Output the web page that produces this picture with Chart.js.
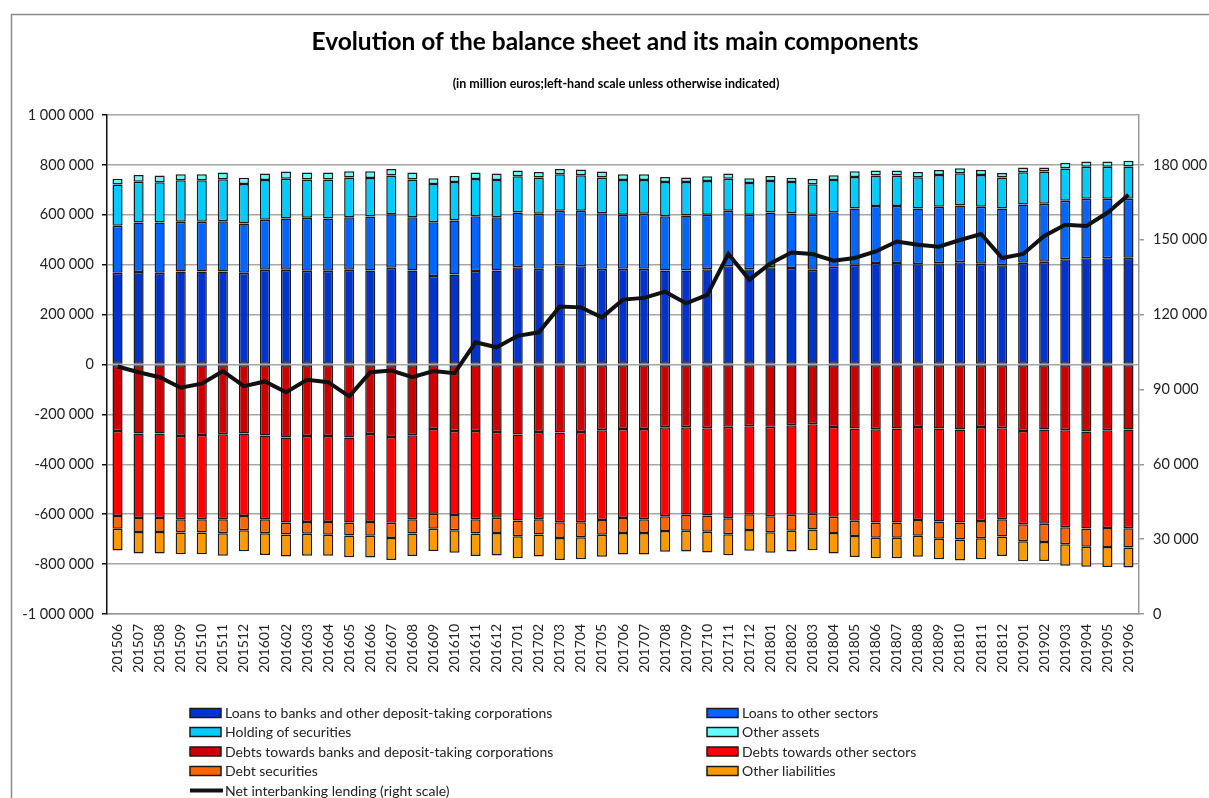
<!DOCTYPE html>
<html lang="en">
<head>
  <meta charset="UTF-8">
  <title>Evolution of the balance sheet</title>
  <script src="https://cdn.jsdelivr.net/npm/chart.js@4.4.1/dist/chart.umd.min.js"></script>
  <style>
    html, body { margin: 0; padding: 0; background: #fff; }
    #chart { display: block; }
  </style>
</head>
<body>
  <canvas id="chart" width="1209" height="798"></canvas>
  <script>
    // months (yyyymm)
    var months = ['201506','201507','201508','201509','201510','201511','201512',
      '201601','201602','201603','201604','201605','201606','201607','201608','201609','201610','201611','201612',
      '201701','201702','201703','201704','201705','201706','201707','201708','201709','201710','201711','201712',
      '201801','201802','201803','201804','201805','201806','201807','201808','201809','201810','201811','201812',
      '201901','201902','201903','201904','201905','201906'];

    // assets (million euros)
    var loansBanks = [368000,371000,368000,373000,373000,373000,368000,380000,380000,376000,376000,380000,377000,388000,
      377000,355000,361000,375000,377000,390000,384000,398000,394000,384000,384000,384000,377000,377000,382000,394000,382000,390000,387000,
      380000,392000,400000,407000,407000,402000,406000,410000,404000,398000,408000,412000,422000,426000,426000,428000];
    var loansOther = [188000,198000,201000,199000,199000,201000,197000,200000,205000,212000,209000,210000,216000,214000,
      213000,215000,216000,219000,213000,219000,220000,218000,222000,222000,216000,220000,217000,220000,218000,222000,218000,219000,218000,
      220000,218000,225000,228000,228000,223000,226000,227000,228000,227000,233000,232000,234000,238000,238000,236000];
    var securities = [165000,163000,161000,166000,166000,168000,158000,159000,159000,153000,156000,160000,154000,156000,
      151000,153000,154000,149000,149000,146000,146000,147000,143000,144000,139000,135000,137000,134000,135000,128000,127000,126000,126000,
      122000,129000,127000,123000,123000,126000,128000,130000,128000,125000,130000,130000,130000,129000,129000,130000];
    var otherAssets = [23000,28000,28000,25000,25000,28000,25000,27000,30000,29000,29000,25000,28000,26000,
      29000,23000,25000,27000,27000,23000,22000,21000,23000,24000,24000,24000,21000,19000,20000,22000,19000,21000,17000,
      21000,20000,23000,20000,20000,21000,20000,20000,20000,18000,19000,16000,23000,21000,21000,23000];

    // liabilities (million euros, negative side)
    var debtsBanks = [-267000,-277000,-277000,-287000,-283000,-280000,-277000,-285000,-293000,-287000,-287000,-293000,-279000,-291000,
      -284000,-259000,-267000,-267000,-271000,-281000,-271000,-273000,-271000,-264000,-259000,-259000,-252000,-252000,-256000,-249000,-247000,-249000,-243000,
      -239000,-251000,-257000,-260000,-257000,-251000,-257000,-261000,-251000,-256000,-267000,-261000,-264000,-269000,-264000,-261000];
    var debtsOther = [-340000,-338000,-338000,-333000,-337000,-340000,-330000,-335000,-340000,-344000,-344000,-340000,-352000,-343000,
      -336000,-339000,-336000,-353000,-343000,-344000,-349000,-359000,-361000,-359000,-356000,-361000,-356000,-349000,-349000,-367000,-353000,-359000,-359000,
      -359000,-359000,-369000,-373000,-376000,-372000,-372000,-372000,-376000,-364000,-373000,-377000,-388000,-388000,-391000,-395000];
    var debtSecurities = [-51000,-56000,-56000,-53000,-53000,-56000,-57000,-56000,-48000,-47000,-51000,-52000,-55000,-61000,
      -57000,-60000,-61000,-57000,-61000,-63000,-61000,-63000,-60000,-59000,-60000,-55000,-59000,-65000,-65000,-64000,-63000,-64000,-64000,
      -63000,-65000,-61000,-61000,-61000,-63000,-69000,-68000,-69000,-69000,-68000,-73000,-68000,-73000,-76000,-77000];
    var otherLiabilities = [-87000,-87000,-87000,-88000,-88000,-91000,-84000,-88000,-89000,-89000,-85000,-88000,-88000,-89000,
      -91000,-89000,-91000,-91000,-91000,-89000,-89000,-89000,-89000,-89000,-87000,-87000,-84000,-83000,-84000,-85000,-83000,-83000,-83000,
      -83000,-83000,-85000,-83000,-83000,-85000,-83000,-85000,-85000,-79000,-81000,-77000,-87000,-81000,-81000,-81000];

    // right scale
    var netLending = [99200,96900,94900,90700,92300,97300,91300,93200,88900,93900,92900,87200,96900,97600,
      94900,97400,96500,108900,106900,111500,112900,123200,122900,118900,126000,126700,129200,124500,127900,144300,134000,140500,144900,
      144300,141600,142700,145300,149300,148000,147200,149900,152300,142700,144300,151500,156000,155500,160800,168000];

    // tick labels
    var leftTicks = [-1000000,-800000,-600000,-400000,-200000,0,200000,400000,600000,800000,1000000];
    var rightTicks = [0,30000,60000,90000,120000,150000,180000];

    var FONT = 'Lato, "Open Sans", sans-serif';

    function fmt(v) {
      var s = String(Math.abs(v)).replace(/\B(?=(\d{3})+(?!\d))/g, ' ');
      return (v < 0 ? '-' : '') + s;
    }

    function bar(label, data, color) {
      return {
        type: 'bar', label: label, data: data, backgroundColor: color,
        borderColor: '#1a1a1a', borderWidth: 1.5, borderSkipped: false,
        barPercentage: 0.48, categoryPercentage: 1, yAxisID: 'y', order: 1
      };
    }

    // title, frame and legend drawn straight on the canvas
    var decor = {
      id: 'decor',
      beforeDraw: function(chart) {
        var ctx = chart.ctx;
        ctx.save();
        ctx.fillStyle = '#fff';
        ctx.fillRect(0, 0, chart.width, chart.height);
        ctx.strokeStyle = '#8c8c8c';
        ctx.lineWidth = 1.5;
        ctx.strokeRect(11.5, 14.5, 1400, 1000);
        ctx.restore();
      },
      afterDraw: function(chart) {
        var ctx = chart.ctx;
        ctx.save();
        ctx.fillStyle = '#000';
        ctx.textAlign = 'center';
        ctx.textBaseline = 'alphabetic';
        ctx.font = 'bold 24.5px ' + FONT;
        ctx.fillText('Evolution of the balance sheet and its main components', 615, 50);
        ctx.font = 'bold 12.5px ' + FONT;
        ctx.fillText('(in million euros;left-hand scale unless otherwise indicated)', 616, 88);

        var ds = chart.data.datasets;
        var colX = [190, 707];
        var rowY = [713, 732, 751.5, 771, 790.5];
        ctx.textAlign = 'left';
        ctx.textBaseline = 'middle';
        ctx.font = '14px ' + FONT;
        for (var i = 0; i < ds.length; i++) {
          var x = colX[i % 2], y = rowY[Math.floor(i / 2)];
          if (ds[i].type === 'line') {
            ctx.strokeStyle = '#111';
            ctx.lineWidth = 4;
            ctx.beginPath();
            ctx.moveTo(x, y);
            ctx.lineTo(x + 33, y);
            ctx.stroke();
          } else {
            ctx.fillStyle = ds[i].backgroundColor;
            ctx.fillRect(x, y - 4.5, 31, 9);
            ctx.strokeStyle = '#1a1a1a';
            ctx.lineWidth = 1.5;
            ctx.strokeRect(x, y - 4.5, 31, 9);
          }
          ctx.fillStyle = '#222';
          ctx.fillText(ds[i].label, x + 35, y + 0.5);
        }
        ctx.restore();
      }
    };

    function setTicks(list) {
      return function(s) { s.ticks = list.map(function(v) { return { value: v }; }); };
    }

    var ctx = document.getElementById('chart').getContext('2d');
    var chart = new Chart(ctx, {
      type: 'bar',
      data: {
        labels: months,
        datasets: [
          bar('Loans to banks and other deposit-taking corporations', loansBanks, '#0033cc'),
          bar('Loans to other sectors', loansOther, '#0066ff'),
          bar('Holding of securities', securities, '#00ccff'),
          bar('Other assets', otherAssets, '#66ffff'),
          bar('Debts towards banks and deposit-taking corporations', debtsBanks, '#cc0000'),
          bar('Debts towards other sectors', debtsOther, '#ff0000'),
          bar('Debt securities', debtSecurities, '#ff6600'),
          bar('Other liabilities', otherLiabilities, '#ff9900'),
          {
            type: 'line', label: 'Net interbanking lending (right scale)', data: netLending,
            borderColor: '#111', borderWidth: 4, pointRadius: 0, tension: 0,
            fill: false, yAxisID: 'y1', order: 0
          }
        ]
      },
      options: {
        responsive: false,
        devicePixelRatio: 1,
        animation: false,
        layout: { padding: { top: 115, left: 0, right: 0, bottom: 0 } },
        plugins: { legend: { display: false }, tooltip: { enabled: false }, title: { display: false } },
        scales: {
          x: {
            stacked: true,
            grid: { display: false, drawTicks: false },
            border: { color: '#999', width: 1.5 },
            ticks: { autoSkip: false, minRotation: 90, maxRotation: 90, padding: 10,
              color: '#222', font: { family: FONT, size: 14 } },
            afterFit: function(s) { s.height = 184; }
          },
          y: {
            stacked: true, position: 'left', min: -1000000, max: 1000000,
            ticks: { callback: fmt, padding: 8, color: '#222', font: { family: FONT, size: 14.5 } },
            grid: { color: '#a6a6a6', lineWidth: 1.5, tickColor: '#111', tickLength: 5 },
            border: { color: '#111', width: 1.5 },
            afterBuildTicks: setTicks(leftTicks),
            afterFit: function(s) { s.width = 107; }
          },
          y1: {
            position: 'right', min: 0, max: 200000,
            ticks: { callback: fmt, padding: 9, color: '#222', font: { family: FONT, size: 14.5 } },
            grid: { drawOnChartArea: false, color: '#999', lineWidth: 1.5, tickLength: 5 },
            border: { color: '#999', width: 1.5 },
            afterBuildTicks: setTicks(rightTicks),
            afterFit: function(s) { s.width = 70; }
          }
        }
      },
      plugins: [decor]
    });
  </script>
</body>
</html>
